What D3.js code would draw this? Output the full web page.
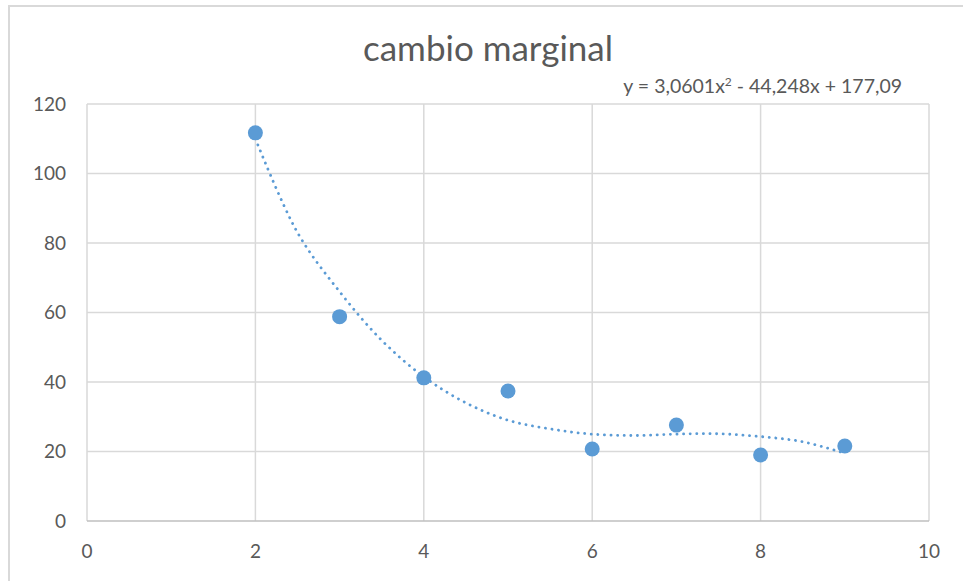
<!DOCTYPE html>
<html>
<head>
<meta charset="utf-8">
<script src="https://cdn.jsdelivr.net/npm/d3@7"></script>
<style>
  body { margin: 0; background: #fff; }
  svg text { font-family: Lato, "Open Sans", sans-serif; fill: #595959; }
</style>
</head>
<body>
<div id="chart"></div>
<script>
var xValues = [2, 3, 4, 5, 6, 7, 8, 9];
var yValues = [111.7, 58.8, 41.2, 37.4, 20.7, 27.6, 19.0, 21.6];

// dotted trend line
var trendX = [2, 2.5, 3, 3.5, 4, 4.5, 5, 5.5, 6, 6.5, 7, 7.5, 8, 8.5, 9];
var trendY = [110, 83, 66, 52, 41.5, 34, 29, 26.5, 25, 24.6, 25, 25.1, 24.3, 22.8, 19.5];

var xTicks = [0, 2, 4, 6, 8, 10];
var yTicks = [0, 20, 40, 60, 80, 100, 120];

var title = "cambio marginal";

var W = 963, H = 581;
var margin = { top: 104, right: 34, bottom: 60, left: 87 },
    width = W - margin.left - margin.right,
    height = H - margin.top - margin.bottom;

var svg = d3.select("#chart")
    .append("svg")
        .attr("width", W)
        .attr("height", H);

// chart frame (only top and left visible in the shot)
svg.append("path")
    .attr("d", "M9,581 V6 H963")
    .attr("fill", "none")
    .attr("stroke", "#d9d9d9")
    .attr("stroke-width", 2);

var g = svg.append("g")
    .attr("transform", "translate(" + margin.left + "," + margin.top + ")");

var x = d3.scaleLinear().domain([0, 10]).range([0, width]);
var y = d3.scaleLinear().domain([0, 120]).range([height, 0]);

// gridlines
g.append("g")
    .selectAll("line.h")
    .data(yTicks.slice(1))
    .enter().append("line")
    .attr("x1", 0).attr("x2", width)
    .attr("y1", function(d) { return y(d); })
    .attr("y2", function(d) { return y(d); })
    .attr("stroke", "#d9d9d9")
    .attr("stroke-width", 1.5);

g.append("g")
    .selectAll("line.v")
    .data(xTicks)
    .enter().append("line")
    .attr("y1", 0).attr("y2", height)
    .attr("x1", function(d) { return x(d); })
    .attr("x2", function(d) { return x(d); })
    .attr("stroke", "#d9d9d9")
    .attr("stroke-width", 1.5);

// x axis line
g.append("line")
    .attr("x1", 0).attr("x2", width)
    .attr("y1", height).attr("y2", height)
    .attr("stroke", "#bfbfbf")
    .attr("stroke-width", 1.5);

// tick labels
g.selectAll(".ylab")
    .data(yTicks)
    .enter().append("text")
    .attr("x", -21)
    .attr("y", function(d) { return y(d); })
    .attr("dy", "0.35em")
    .style("text-anchor", "end")
    .style("font-size", "19px")
    .text(function(d) { return d; });

g.selectAll(".xlab")
    .data(xTicks)
    .enter().append("text")
    .attr("x", function(d) { return x(d); })
    .attr("y", height + 37)
    .style("text-anchor", "middle")
    .style("font-size", "19px")
    .text(function(d) { return d; });

// trend line
var trend = trendX.map(function(d, i) { return [d, trendY[i]]; });
g.append("path")
    .datum(trend)
    .attr("fill", "none")
    .attr("stroke", "#5b9bd5")
    .attr("stroke-width", 2.8)
    .attr("stroke-linecap", "round")
    .attr("stroke-dasharray", "0.1,6.5")
    .attr("d", d3.line()
        .x(function(d) { return x(d[0]); })
        .y(function(d) { return y(d[1]); })
        .curve(d3.curveCatmullRom));

// points
g.selectAll(".dot")
    .data(xValues)
    .enter().append("circle")
    .attr("cx", function(d) { return x(d); })
    .attr("cy", function(d, i) { return y(yValues[i]); })
    .attr("r", 7.5)
    .attr("fill", "#5b9bd5");

// title
svg.append("text")
    .attr("x", 488)
    .attr("y", 61)
    .style("text-anchor", "middle")
    .style("font-size", "35px")
    .text(title);

// equation
var eq = svg.append("text")
    .attr("x", 902)
    .attr("y", 93)
    .style("text-anchor", "end")
    .style("font-size", "19.5px");
eq.append("tspan").text("y = 3,0601x");
eq.append("tspan").attr("dy", -7).style("font-size", "12px").text("2");
eq.append("tspan").attr("dy", 7).text(" - 44,248x + 177,09");
</script>
</body>
</html>
